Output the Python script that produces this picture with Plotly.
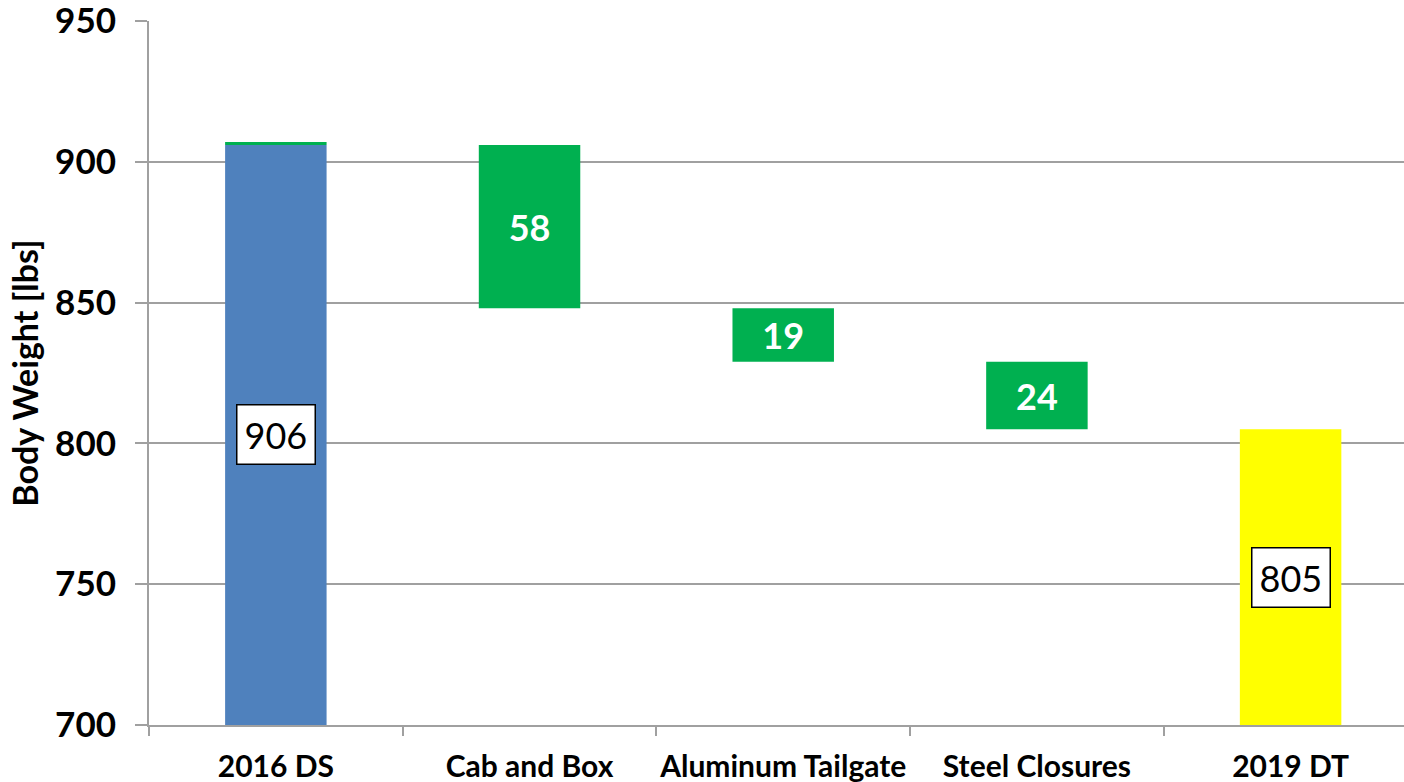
import plotly.graph_objects as go

categories = ["2016 DS", "Cab and Box", "Aluminum Tailgate", "Steel Closures", "2019 DT"]
start_weight = 906
reductions = [58, 19, 24]
end_weight = 805
start_cap = 1  # thin green sliver on top of the first bar
y_ticks = [700, 750, 800, 850, 900, 950]

y_min, y_max = 700, 950
FONT = "Lato"

# waterfall geometry
levels = [start_weight]
for r in reductions:
    levels.append(levels[-1] - r)
green_base = [start_weight] + [levels[i + 1] for i in range(len(reductions))] + [end_weight]
green_len = [start_cap] + reductions + [0]

fig = go.Figure()

fig.add_trace(go.Bar(
    x=[categories[0], categories[-1]],
    y=[start_weight, end_weight],
    marker=dict(color=["#4F81BD", "#FFFF00"], line=dict(width=0)),
    width=0.4,
    hoverinfo="skip",
))

fig.add_trace(go.Bar(
    x=categories,
    y=green_len,
    base=green_base,
    marker=dict(color="#00B050", line=dict(width=0)),
    width=0.4,
    text=[""] + [str(r) for r in reductions] + [""],
    textposition="inside",
    insidetextanchor="middle",
    textfont=dict(family=FONT, size=36, color="white", weight="bold"),
    hoverinfo="skip",
))

for cat, val in [(categories[0], start_weight), (categories[-1], end_weight)]:
    fig.add_annotation(
        x=cat, y=(y_min + val) / 2, text=str(val), showarrow=False,
        font=dict(family=FONT, size=36, color="black"),
        bgcolor="white", bordercolor="black", borderwidth=1.5, borderpad=7,
    )

fig.update_layout(
    width=1404, height=782,
    margin=dict(l=149, r=0, t=21, b=57, autoexpand=False),
    plot_bgcolor="white", paper_bgcolor="white",
    showlegend=False,
    barmode="overlay",
    font=dict(family=FONT, color="black"),
)

fig.update_xaxes(
    type="category",
    categoryorder="array", categoryarray=categories,
    range=[-0.5, 4.447],
    automargin=False,
    showgrid=False,
    showline=True, linecolor="#a0a0a0", linewidth=2,
    ticks="outside", tickson="boundaries", ticklen=9, tickwidth=2, tickcolor="#a0a0a0",
    tickangle=0,
    tickfont=dict(family=FONT, size=30, color="black", weight="bold"),
    ticklabelstandoff=14,
    ticklabeloverflow="allow",
)

fig.update_yaxes(
    range=[y_min, y_max],
    tickvals=y_ticks,
    automargin=False,
    showgrid=True, gridcolor="#a0a0a0", gridwidth=2,
    showline=True, linecolor="#a0a0a0", linewidth=2,
    ticks="outside", ticklen=12, tickwidth=2, tickcolor="#a0a0a0",
    tickfont=dict(family=FONT, size=35, color="black", weight="bold"),
    ticklabelstandoff=12,
    ticklabeloverflow="allow",
    zeroline=False,
    title=dict(text="Body Weight [lbs]", font=dict(family=FONT, size=34, color="black", weight="bold"), standoff=6),
)

fig.write_html(
    "out.html",
    config={"displayModeBar": False},
    post_script="document.body.style.margin='0';document.body.style.padding='0';",
)
